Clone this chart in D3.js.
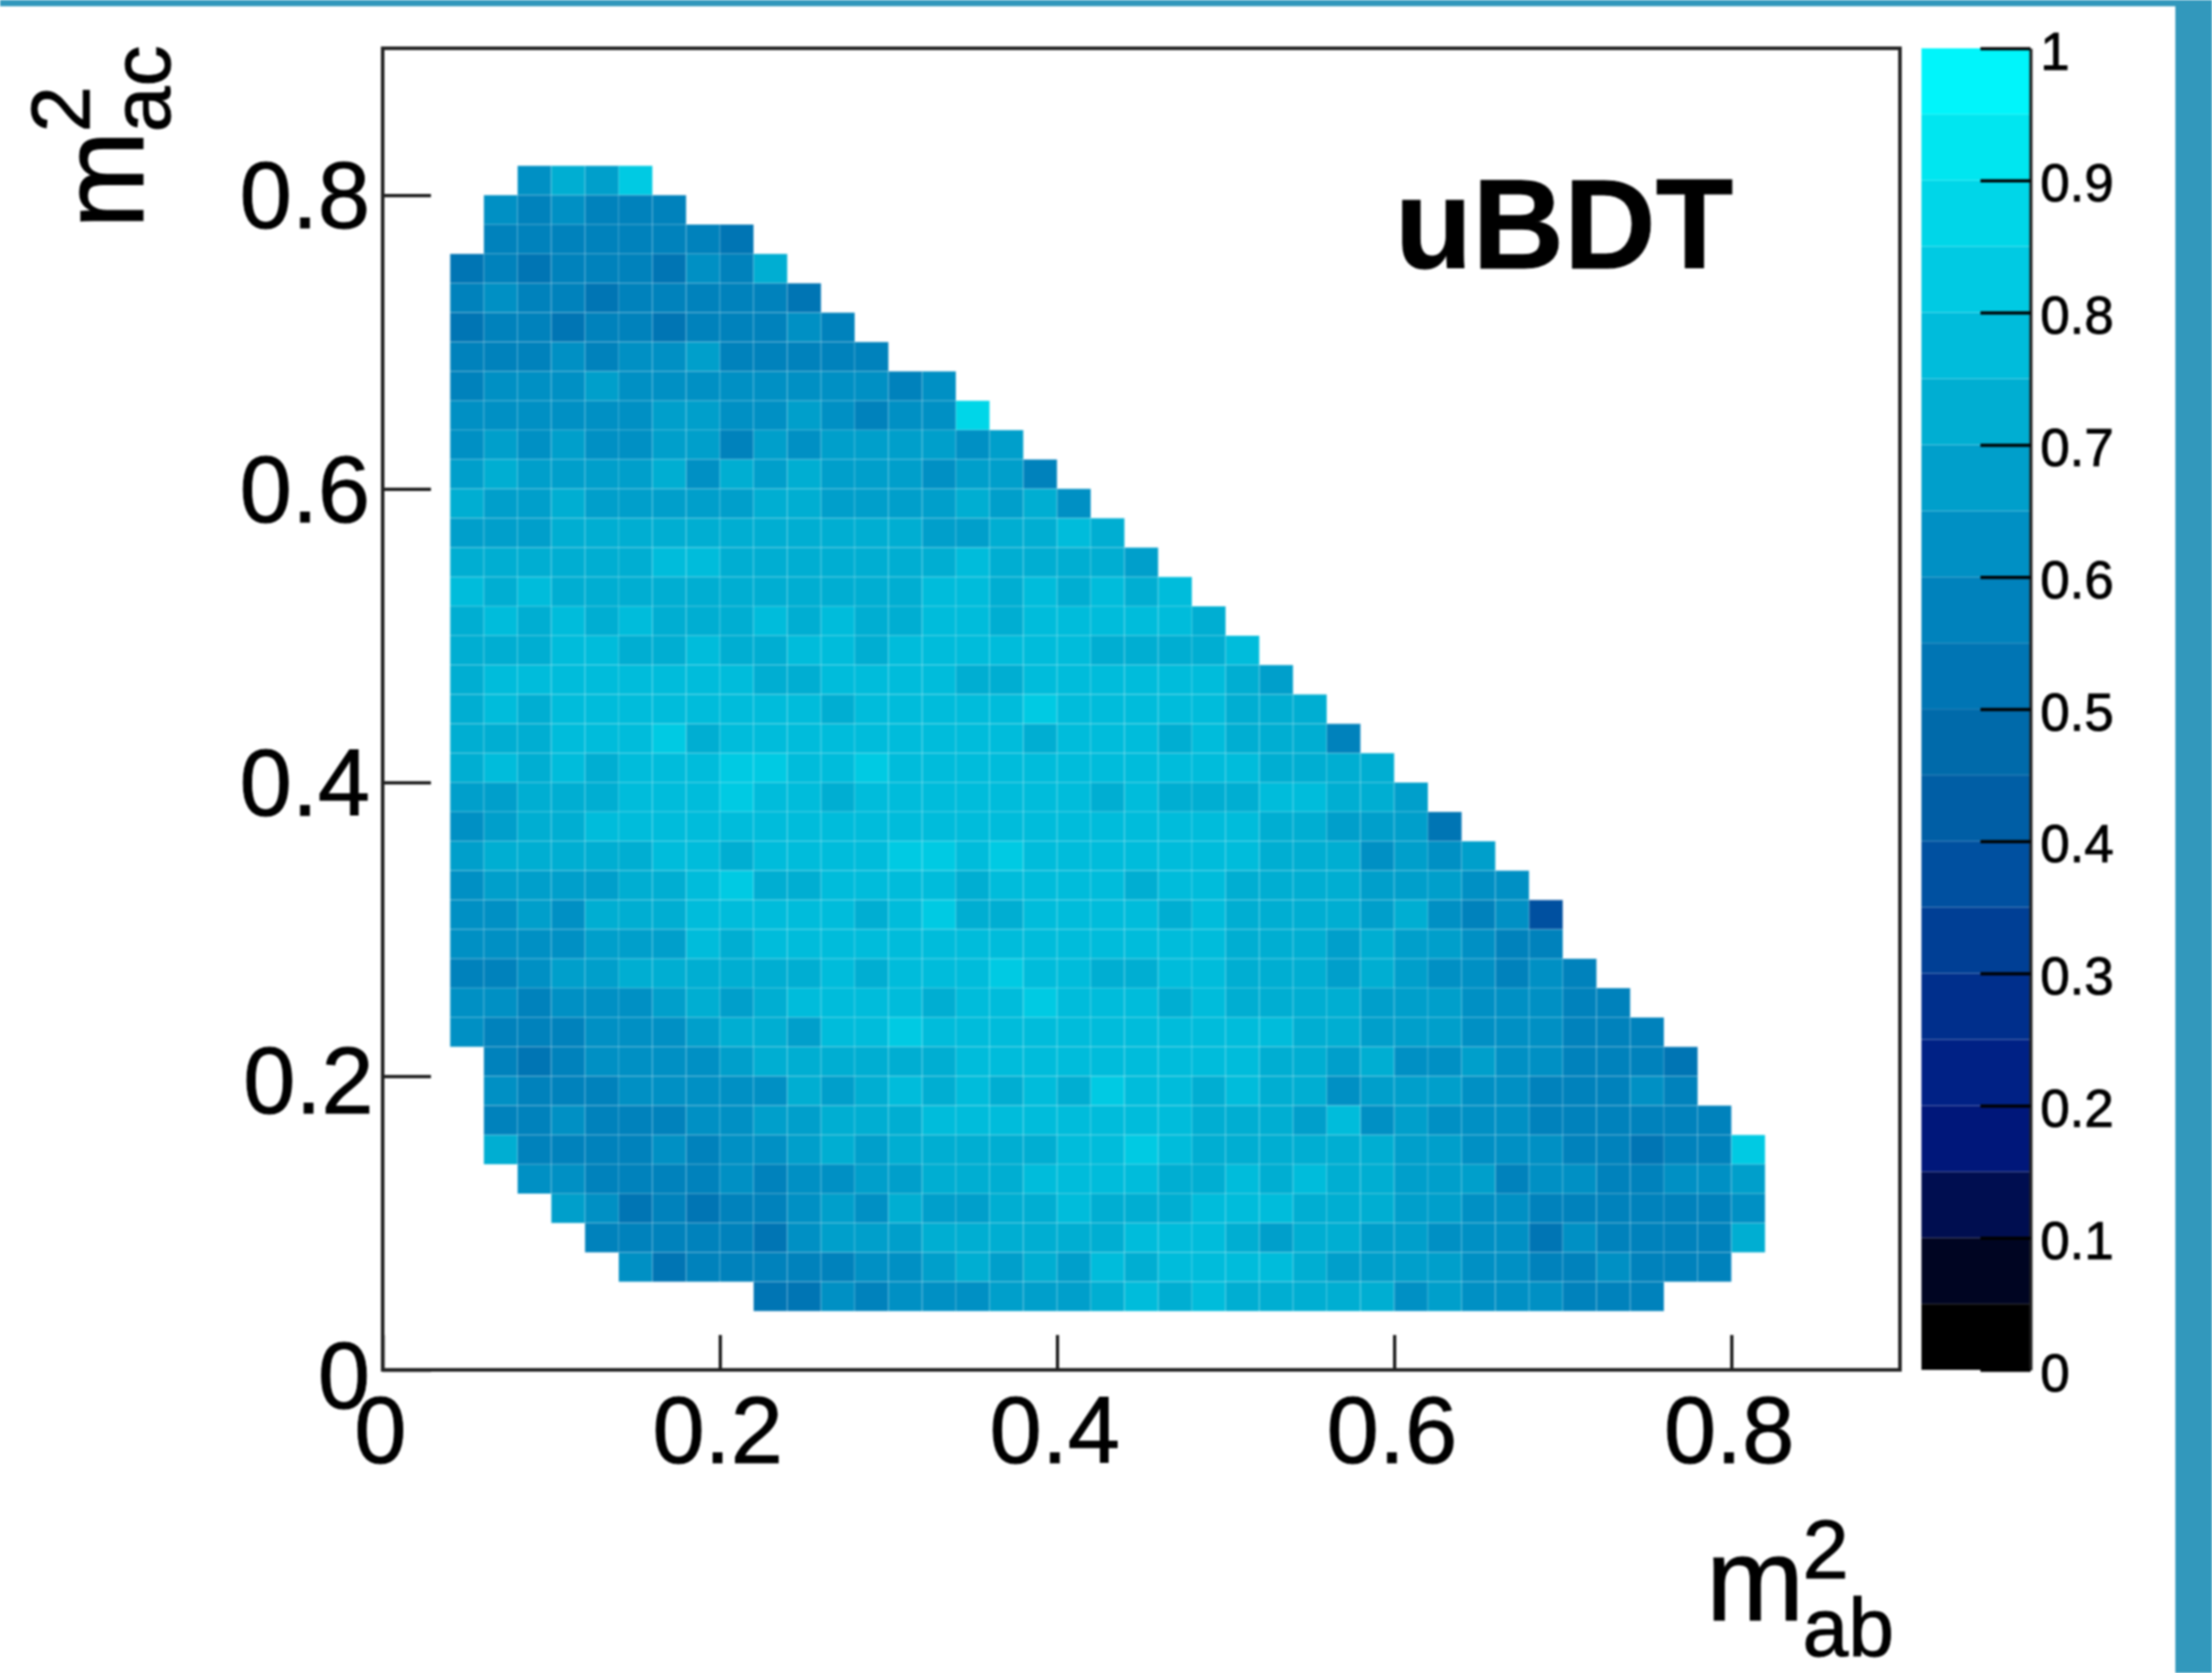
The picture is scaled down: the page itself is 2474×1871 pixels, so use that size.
<!DOCTYPE html>
<html>
<head>
<meta charset="utf-8">
<script src="https://cdn.jsdelivr.net/npm/d3@7"></script>
<style>
    body { margin: 0; background: #fff; }
    svg { display: block; filter: blur(0.8px); }
    text { font-family: "Liberation Sans", sans-serif; fill: #000; stroke: #000; stroke-width: 1; }
</style>
</head>
<body>
<div id="chart"></div>
<script>
// bin width of the dalitz histogram, both axes
const binSize = 0.02;
const firstBinX = 0.04;
const topBinY = 0.80;

const xTicks = [0, 0.2, 0.4, 0.6, 0.8];
const yTicks = [0, 0.2, 0.4, 0.6, 0.8];
const zTicks = [0, 0.1, 0.2, 0.3, 0.4, 0.5, 0.6, 0.7, 0.8, 0.9, 1];

// colour bar: 20 contour levels
const zLevels = [0.05, 0.1, 0.15, 0.2, 0.25, 0.3, 0.35, 0.4, 0.45, 0.5, 0.55, 0.6, 0.65, 0.7, 0.75, 0.8, 0.85, 0.9, 0.95];
const zColours = ['#000000', '#000522', '#000e50', '#00177a', '#002185', '#002f8c', '#003f95', '#0050a0', '#005ea5', '#006aaa',
    '#0075b4', '#0082bc', '#0090c4', '#009fcb', '#00aed2', '#00bcdb', '#00cae3', '#00d6e8', '#00e6f0', '#00f5fb'];

// first filled column of each row, top row first
const rowStart = [2, 1, 1, 0, 0, 0, 0, 0, 0, 0, 0, 0, 0, 0, 0, 0, 0, 0, 0, 0, 0, 0, 0, 0, 0, 0, 0, 0, 0, 0, 1, 1, 1, 1, 2, 3, 4, 5, 9];

// uniformity per bin in percent (top row first)
const rowValues = [
    [62,72,67,82],
    [62,57,62,57,57,57],
    [57,57,57,57,57,57,57,52],
    [52,57,52,57,57,57,52,62,57,72],
    [57,62,57,57,52,57,57,57,57,57,52],
    [52,57,57,52,57,57,52,57,57,57,62,57],
    [57,57,57,62,57,62,62,67,57,57,57,57,57],
    [57,62,62,62,67,62,62,62,62,62,62,62,62,57,62],
    [62,62,62,62,62,62,67,67,62,62,67,62,57,62,62,87],
    [62,67,62,67,62,62,67,67,57,67,62,67,67,67,67,62,67],
    [67,72,67,67,67,67,72,62,72,67,72,67,67,67,62,67,67,57],
    [72,67,67,72,67,67,67,67,67,72,72,67,67,67,67,72,67,72,62],
    [67,67,67,72,72,72,72,72,72,72,72,72,72,72,67,67,72,72,77,72],
    [72,72,72,72,72,72,77,77,72,72,72,72,72,72,72,77,72,72,72,72,67],
    [77,72,77,72,72,72,72,72,72,72,72,72,72,72,77,77,72,77,72,77,72,77],
    [72,77,72,77,72,77,72,72,72,77,72,77,72,72,77,77,72,77,77,77,77,77,72],
    [72,72,72,77,77,72,72,77,72,72,77,77,72,77,77,77,77,77,77,72,72,72,72,77],
    [72,77,77,77,77,77,77,77,77,72,72,77,77,77,77,72,72,77,77,77,77,77,77,72,67],
    [72,77,72,77,77,77,77,77,77,77,77,72,77,77,77,77,77,82,77,77,77,77,77,72,72,72],
    [72,72,72,77,77,77,82,72,77,77,77,77,77,77,77,77,77,72,77,77,77,72,77,72,72,72,57],
    [72,77,72,77,72,77,77,77,82,82,77,77,82,77,77,77,77,77,77,77,77,77,77,77,72,72,72,72],
    [67,67,72,72,72,77,77,77,82,77,77,72,77,77,77,77,77,77,77,72,77,72,72,72,77,77,72,72,67],
    [62,67,72,72,77,77,77,77,77,77,77,77,77,77,77,77,77,77,77,77,77,77,77,77,72,72,67,67,67,52],
    [67,72,72,72,72,72,77,77,72,77,77,77,77,82,82,77,82,77,77,77,77,77,77,77,72,72,72,62,67,62,67],
    [62,67,67,67,67,72,72,77,82,72,72,77,77,77,77,72,77,77,77,77,72,77,77,72,72,72,72,67,67,67,62,62],
    [62,62,67,62,72,72,72,77,77,77,77,77,72,77,82,72,72,77,77,77,77,72,77,72,72,72,72,67,72,62,57,62,37],
    [62,62,62,62,67,67,67,77,72,77,77,77,77,77,77,77,77,77,77,77,77,77,77,72,72,72,67,72,67,67,62,57,57],
    [57,57,62,67,67,72,72,72,72,72,72,77,72,77,77,77,82,77,77,72,72,77,77,72,72,72,67,72,67,62,62,57,62,57],
    [62,62,57,62,62,62,67,72,67,72,77,77,77,77,72,77,77,82,77,77,77,72,77,72,72,72,72,67,67,67,62,62,62,57,57],
    [62,57,57,57,62,62,62,67,72,72,67,77,77,82,77,77,77,77,77,77,77,77,77,77,77,72,72,67,67,67,62,62,62,57,57,57],
    [57,52,57,62,62,62,62,67,72,72,72,72,72,72,77,77,77,77,77,77,77,77,77,72,72,67,72,62,62,67,62,62,57,57,57,52],
    [62,57,57,57,62,62,62,62,62,72,67,72,77,72,77,72,77,72,82,77,77,72,77,72,72,62,67,67,67,62,62,57,57,57,62,57],
    [57,57,62,57,57,57,62,62,67,67,72,72,72,77,77,77,77,77,77,77,77,72,72,72,67,77,62,67,62,62,62,57,57,57,57,57,57],
    [72,57,57,57,57,62,57,62,62,67,72,67,72,72,72,72,72,77,77,82,77,72,72,72,72,72,72,67,67,62,62,62,57,57,52,57,57,82],
    [62,62,57,57,57,57,62,57,62,62,67,67,72,72,72,77,77,77,77,72,72,77,72,77,72,72,67,67,67,57,62,62,57,57,62,62,67],
    [67,62,52,57,52,57,57,62,67,62,72,67,67,72,72,77,72,72,72,77,77,77,72,72,72,67,67,62,62,57,57,57,57,57,57,62],
    [57,57,57,57,57,52,62,67,67,67,72,72,72,72,72,72,77,77,77,72,67,72,72,67,67,62,62,62,52,62,57,57,57,57,72],
    [62,52,57,57,57,57,57,62,62,67,72,67,72,67,77,72,77,77,77,77,72,67,67,67,67,62,62,57,57,62,57,57,57],
    [52,52,62,57,62,62,62,67,67,67,72,77,72,77,72,72,72,72,72,62,67,62,62,62,57,57,57]
];

const svg = d3.select('#chart')
    .append('svg')
    .attr('width', 2474)
    .attr('height', 1871);

const x = d3.scaleLinear().domain([0, 0.9]).range([428, 2125]);
const y = d3.scaleLinear().domain([0, 0.9]).range([1532, 54]);
const z = d3.scaleLinear().domain([0, 1]).range([1532, 54]);
const colour = d3.scaleThreshold().domain(zLevels).range(zColours);

// page strips around the picture
svg.append('rect').attr('x', 0).attr('y', 0).attr('width', 2474).attr('height', 7).attr('fill', '#3298bc');
svg.append('rect').attr('x', 2433).attr('y', 0).attr('width', 41).attr('height', 1871).attr('fill', '#3298bc');

const cells = [];
rowValues.forEach((row, r) => {
    row.forEach((v, i) => {
        cells.push({
            x0: firstBinX + (rowStart[r] + i) * binSize,
            y0: topBinY - r * binSize,
            value: v / 100
        });
    });
});

svg.append('g')
    .attr('class', 'cells')
    .selectAll('rect')
    .data(cells)
    .enter().append('rect')
    .attr('x', d => x(d.x0))
    .attr('y', d => y(d.y0 + binSize))
    .attr('width', d => x(d.x0 + binSize) - x(d.x0))
    .attr('height', d => y(d.y0) - y(d.y0 + binSize))
    .attr('fill', d => colour(d.value))
    .attr('stroke', '#fff')
    .attr('stroke-opacity', 0.13)
    .attr('stroke-width', 1.5);

const xAxis = d3.axisBottom(x).tickValues(xTicks).tickFormat(d3.format('')).tickSizeInner(-39).tickSizeOuter(0).tickPadding(29);
const yAxis = d3.axisLeft(y).tickValues(yTicks).tickFormat(d3.format('')).tickSizeInner(-54).tickSizeOuter(0).tickPadding(14);

svg.append('g')
    .attr('class', 'axis axis--x')
    .attr('transform', 'translate(0,1532)')
    .call(xAxis);
svg.append('g')
    .attr('class', 'axis axis--y')
    .attr('transform', 'translate(428,0)')
    .call(yAxis);

svg.selectAll('.axis text')
    .attr('font-family', null)
    .style('font-size', '105px');
svg.select('.axis--x').selectAll('text').attr('dx', -3);
// the 0.2 label sits a little off in the original
svg.select('.axis--y').selectAll('text')
    .attr('dy', d => d === 0 ? '0.4em' : d === 0.2 ? '0.39em' : '0.35em')
    .attr('dx', d => d === 0.2 ? 4 : 0);
svg.selectAll('.axis line').attr('stroke', '#111').attr('stroke-width', 3.5);

svg.append('rect')
    .attr('x', x(0))
    .attr('y', y(0.9))
    .attr('width', x(0.9) - x(0))
    .attr('height', y(0) - y(0.9))
    .attr('fill', 'none')
    .attr('stroke', '#222')
    .attr('stroke-width', 4);

// colour bar
const barEdges = [0].concat(zLevels);
svg.append('g')
    .attr('class', 'bar')
    .selectAll('rect')
    .data(barEdges)
    .enter().append('rect')
    .attr('x', 2149)
    .attr('width', 122)
    .attr('y', (d, i) => z(i < zLevels.length ? zLevels[i] : 1))
    .attr('height', (d, i) => z(d) - z(i < zLevels.length ? zLevels[i] : 1))
    .attr('fill', d => colour(d))
    .attr('stroke', '#fff')
    .attr('stroke-opacity', 0.1)
    .attr('stroke-width', 1);

const zAxis = d3.axisRight(z).tickValues(zTicks).tickFormat(d3.format('')).tickSizeInner(-56).tickSizeOuter(0).tickPadding(11);
const zG = svg.append('g')
    .attr('class', 'axis--z')
    .attr('transform', 'translate(2271,0)')
    .call(zAxis);
zG.selectAll('text').attr('font-family', null).attr('dy', '0.39em').style('font-size', '59px');
zG.selectAll('line').attr('stroke', '#000').attr('stroke-width', 3.5);
zG.select('.domain').attr('stroke', '#222').attr('stroke-width', 3.5);

svg.append('text')
    .attr('x', 1560)
    .attr('y', 300)
    .style('font-size', '142px')
    .style('font-weight', 'bold')
    .text('uBDT');

// m^2_xx axis titles, sup and sub stacked like TLatex does it
function axisTitle(tx, ty, rotate, sub, supDy, subDy) {
    const g = svg.append('g').attr('transform', `translate(${tx},${ty}) rotate(${rotate})`);
    g.append('text').style('font-size', '132px').text('m');
    g.append('text').attr('x', 108).attr('y', supDy).style('font-size', '93px').text('2');
    g.append('text').attr('x', 108).attr('y', subDy).style('font-size', '92px').text(sub);
}
axisTitle(1908, 1812, 0, 'ab', -47, 40);
axisTitle(160, 256, -90, 'ac', -60, 30);
</script>
</body>
</html>
